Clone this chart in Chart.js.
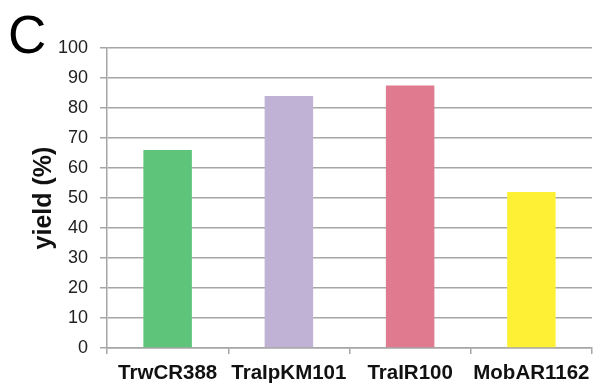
<!DOCTYPE html>
<html>
<head>
<meta charset="utf-8">
<script src="https://cdn.jsdelivr.net/npm/chart.js@4/dist/chart.umd.min.js"></script>
<style>
  html, body { margin: 0; padding: 0; background: #fff; }
  #wrap { position: relative; width: 595px; height: 389px; }
</style>
</head>
<body>
<div id="wrap"><canvas id="chart" width="595" height="389"></canvas></div>
<script>
// Relaxase yields per construct
const categories = ['TrwCR388', 'TraIpKM101', 'TraIR100', 'MobAR1162'];
const yieldValues = [66, 84, 87.5, 52];
const barColors = ['#5dc47a', '#c0b2d4', '#e07b8f', '#fdf035'];
const yTicks = [0, 10, 20, 30, 40, 50, 60, 70, 80, 90, 100];
const panelLetter = 'C';

const gridGray = '#a6a6a6';

// Panel letter in the top-left corner
const panelLabel = {
  id: 'panelLabel',
  afterDraw(chart) {
    const ctx = chart.ctx;
    ctx.save();
    ctx.fillStyle = '#000';
    ctx.font = '53px "Liberation Sans", Arial, sans-serif';
    ctx.textBaseline = 'alphabetic';
    ctx.textAlign = 'left';
    ctx.fillText(panelLetter, 8, 53);
    ctx.restore();
  }
};

new Chart(document.getElementById('chart'), {
  type: 'bar',
  data: {
    labels: categories,
    datasets: [{
      data: yieldValues,
      backgroundColor: barColors,
      borderWidth: 0,
      barPercentage: 0.4,
      categoryPercentage: 1.0
    }]
  },
  options: {
    responsive: false,
    animation: false,
    devicePixelRatio: 1,
    layout: { padding: { top: 48, right: 3, left: 0, bottom: 0 } },
    plugins: { legend: { display: false }, tooltip: { enabled: false } },
    scales: {
      x: {
        offset: true,
        grid: {
          offset: true,
          drawOnChartArea: false,
          drawTicks: true,
          tickLength: 6,
          color: gridGray,
          lineWidth: 1.5
        },
        border: { display: true, color: gridGray, width: 1.5 },
        ticks: {
          color: '#111',
          padding: 7,
          maxRotation: 0,
          autoSkip: false,
          font: { family: '"Liberation Sans", Arial, sans-serif', size: 20.5, weight: 'bold' }
        },
        afterFit(scale) {
          scale.height = 41;
          scale.paddingLeft = 0;
          scale.paddingRight = 0;
        }
      },
      y: {
        min: 0,
        max: 100,
        afterBuildTicks(scale) { scale.ticks = yTicks.map(v => ({ value: v })); },
        grid: {
          drawOnChartArea: true,
          drawTicks: true,
          tickLength: 7,
          color: gridGray,
          lineWidth: 1.5
        },
        border: { display: true, color: gridGray, width: 1.5 },
        ticks: {
          color: '#222',
          padding: 12,
          font: { family: '"Liberation Sans", Arial, sans-serif', size: 18 }
        },
        title: {
          display: true,
          text: 'yield (%)',
          color: '#111',
          padding: { top: 29, bottom: 0 },
          font: { family: '"Liberation Sans", Arial, sans-serif', size: 25, weight: 'bold' }
        },
        afterFit(scale) { scale.width = 107; }
      }
    }
  },
  plugins: [panelLabel]
});
</script>
</body>
</html>
